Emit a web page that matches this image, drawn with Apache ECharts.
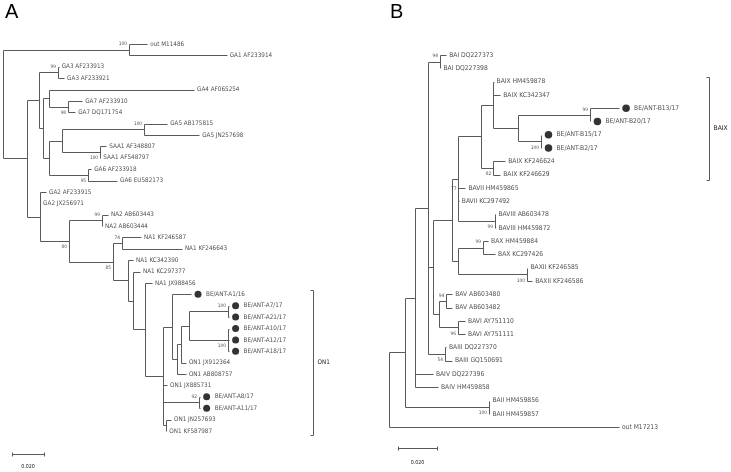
<!DOCTYPE html>
<html><head><meta charset="utf-8">
<script src="https://cdn.jsdelivr.net/npm/echarts@6/dist/echarts.min.js"></script>
<style>html,body{margin:0;padding:0;background:#fff}#c{width:731px;height:472px}</style>
</head><body><div id="c"></div>
<script>
// ---------------- Tree A (nodes in depth-first order; '' = internal node) ----------------
const nameA = ['', '', 'out M11486', 'GA1 AF233914', '', '', '', 'GA3 AF233913', 'GA3 AF233921', '',
  '', 'GA4 AF065254', '', 'GA7 AF233910', 'GA7 DQ171754', '', '', '', 'GA5 AB175815', 'GA5 JN257698',
  '', 'SAA1 AF348807', 'SAA1 AF548797', '', 'GA6 AF233918', 'GA6 EU582173', '', 'GA2 AF233915', 'GA2 JX256971', '',
  '', 'NA2 AB603443', 'NA2 AB603444', '', '', 'NA1 KF246587', 'NA1 KF246643', '', 'NA1 KC342390', '',
  'NA1 KC297377', '', 'NA1 JX988456', '', '', 'BE/ANT-A1/16', '', '', '', '',
  'BE/ANT-A7/17', 'BE/ANT-A21/17', '', 'BE/ANT-A10/17', 'BE/ANT-A12/17', 'BE/ANT-A18/17', 'ON1 JX912364', 'ON1 AB808757', 'ON1 JX885731', '',
  'BE/ANT-A8/17', 'BE/ANT-A11/17', '', 'ON1 JN257693', 'ON1 KF587987'];
const parentA = [-1,0,1,1,0,4,5,6,6,5, 9,10,10,12,12,9,15,16,17,17, 16,20,20,15,23,23,4,26,26,26,
  29,30,30,29,33,34,34,33,37,37, 39,39,41,41,43,44,44,46,47,48, 49,49,48,52,52,52,47,46,43,43, 59,59,43,62,62];
const branchA = [0,0.0788,0.0113,0.0610,0.0150,0.0075,0.0119,0.0004,0.0038,0.0025,
  0.0038,0.0906,0.0119,0.0088,0.0044,0.0038,0.0081,0.0513,0.0144,0.0344,
  0.0238,0.0038,0.0001,0.0244,0.0019,0.0181,0.0081,0.0038,0.0001,0.0181,
  0.0206,0.0038,0.0001,0.0275,0.0056,0.0119,0.0375,0.0094,0.0031,0.0031,
  0.0044,0.0075,0.0044,0.0113,0.0056,0.0119,0.0031,0.0025,0.0050,0.0244,
  0.0004,0.0004,0.0244,0.0004,0.0004,0.0004,0.0031,0.0056,0.0025,0.0225,
  0.0004,0.0004,0.0019,0.0031,0.0002];
const bootNodeA = [1,6,12,17,20,23,29,30,33,34,49,52,59];
const bootValueA = [100,99,98,100,100,95,80,99,85,74,100,100,92];
const bootSideA = ['up','up','down','up','down','down','down','up','down','up','up','down','up'];
const markedA = ['BE/ANT-A1/16','BE/ANT-A7/17','BE/ANT-A21/17','BE/ANT-A10/17','BE/ANT-A12/17','BE/ANT-A18/17','BE/ANT-A8/17','BE/ANT-A11/17'];
const cladeA = ['ON1', 'BE/ANT-A1/16', 'ON1 KF587987'];

// ---------------- Tree B ----------------
const nameB = ['', '', '', '', '', 'BAI DQ227373', 'BAI DQ227398', '', '', '',
  '', '', 'BAIX HM459878', 'BAIX KC342347', '', '', 'BE/ANT-B13/17', 'BE/ANT-B20/17', '', 'BE/ANT-B15/17',
  'BE/ANT-B2/17', '', 'BAIX KF246624', 'BAIX KF246629', '', 'BAVII HM459865', 'BAVII KC297492', '', 'BAVIII AB603478', 'BAVIII HM459872',
  '', '', 'BAX HM459884', 'BAX KC297426', '', 'BAXII KF246585', 'BAXII KF246586', '', '', 'BAV AB603480',
  'BAV AB603482', '', 'BAVI AY751110', 'BAVI AY751111', '', 'BAIII DQ227370', 'BAIII GQ150691', 'BAIV DQ227396', 'BAIV HM459858', '',
  'BAII HM459856', 'BAII HM459857', 'out M17213'];
const parentB = [-1,0,1,2,3,4,4,3,7,8, 9,10,11,11,11,14,15,15,14,18, 18,10,21,21,9,24,24,9,27,27,
  8,30,31,31,30,34,34,7,37,38, 38,37,41,41,3,44,44,2,2,1, 49,49,0];
const branchB = [0,0.0082,0.0051,0.0067,0.0062,0.0031,0.0002,0.0026,0.0097,0.0031,
  0.0118,0.0062,0.0002,0.0036,0.0128,0.0369,0.0149,0.0002,0.0118,0.0002,
  0.0002,0.0062,0.0062,0.0036,0.0002,0.0036,0.0002,0.0190,0.0002,0.0002,
  0.0031,0.0128,0.0026,0.0062,0.0354,0.0002,0.0026,0.0031,0.0036,0.0031,
  0.0031,0.0097,0.0036,0.0036,0.0087,0.0005,0.0036,0.0092,0.0118,0.0431,
  0.0002,0.0002,0.1179];
const bootNodeB = [4,15,18,21,24,27,31,34,38,41,44,49];
const bootValueB = [94,99,100,82,77,99,99,100,94,96,54,100];
const bootSideB = ['up','up','down','down','up','down','up','down','up','down','down','down'];
const markedB = ['BE/ANT-B13/17','BE/ANT-B20/17','BE/ANT-B15/17','BE/ANT-B2/17'];
const cladeB = ['BAIX', 'BAIX HM459878', 'BAIX KF246629'];

const scaleBarLength = 0.02;
const scaleBarLabel = '0.020';
const panelLabels = ['A', 'B'];

// ---------------- layout / styling ----------------
const LINE = '#5a5a5a', TEXT = '#202020';
const FONT = "'Liberation Sans Narrow','Arial Narrow','DejaVu Sans Condensed',sans-serif";
const panels = [
  {left: 3, top: 44, rowH: 11.38, pxPerUnit: 1600, width: 320, font: 6.3, dot: 7, dotGap: 7, labelGap: 3, markGap: 15,
   scaleX: 0.0056, scaleRow: 36.03, scaleTextRow: 37.1, cladeX: 0.194, letterX: 5},
  {left: 389, top: 55, rowH: 13.29, pxPerUnit: 1950, width: 331.5, font: 6.7, dot: 7.5, dotGap: 7, labelGap: 3, markGap: 15,
   scaleX: 0.0046, scaleRow: 29.57, scaleTextRow: 30.7, cladeX: 0.164, letterX: 390}
];

function layoutTree(names, parent, len) {
  const n = names.length, children = names.map(() => []);
  for (let i = 1; i < n; i++) children[parent[i]].push(i);
  const x = new Array(n).fill(0), y = new Array(n).fill(0);
  for (let i = 1; i < n; i++) x[i] = x[parent[i]] + len[i];
  let row = 0;
  (function setY(i) {
    const c = children[i];
    if (!c.length) { y[i] = row++; return; }
    c.forEach(setY);
    y[i] = (y[c[0]] + y[c[c.length - 1]]) / 2;
  })(0);
  return {children, x, y, rows: row};
}

const crisp = v => Math.round(v) + 0.5;
const trees = [
  {names: nameA, parent: parentA, len: branchA, bn: bootNodeA, bv: bootValueA, bs: bootSideA, marked: markedA, clade: cladeA},
  {names: nameB, parent: parentB, len: branchB, bn: bootNodeB, bv: bootValueB, bs: bootSideB, marked: markedB, clade: cladeB}
];

const grids = [], xAxes = [], yAxes = [], series = [];
trees.forEach((t, gi) => {
  const P = panels[gi];
  const L = layoutTree(t.names, t.parent, t.len);
  grids.push({left: P.left, top: P.top, width: P.width, height: P.rowH * (L.rows - 1), outerBoundsMode: 'none', containLabel: false});
  xAxes.push({type: 'value', gridIndex: gi, min: 0, max: P.width / P.pxPerUnit, show: false});
  yAxes.push({type: 'value', gridIndex: gi, min: 0, max: L.rows - 1, inverse: true, show: false});

  const segs = [];
  for (let i = 1; i < t.names.length; i++) segs.push([L.x[t.parent[i]], L.y[i], L.x[i], L.y[i]]);
  for (let i = 0; i < t.names.length; i++) {
    const c = L.children[i];
    if (c.length) segs.push([L.x[i], L.y[c[0]], L.x[i], L.y[c[c.length - 1]]]);
  }
  series.push({
    type: 'custom', xAxisIndex: gi, yAxisIndex: gi, data: segs, clip: false, silent: true,
    encode: {x: [0, 2], y: [1, 3]},
    renderItem: (params, api) => {
      const a = api.coord([api.value(0), api.value(1)]);
      const b = api.coord([api.value(2), api.value(3)]);
      return {type: 'line', shape: {x1: crisp(a[0]), y1: crisp(a[1]), x2: crisp(b[0]), y2: crisp(b[1])},
        style: {stroke: LINE, lineWidth: 1}};
    }
  });

  // leaf labels
  const leafData = [], dotData = [];
  t.names.forEach((nm, i) => {
    if (L.children[i].length) return;
    const m = t.marked.includes(nm);
    leafData.push({value: [L.x[i], L.y[i]], name: nm, label: {distance: m ? P.markGap : P.labelGap}});
    if (m) dotData.push([L.x[i], L.y[i]]);
  });
  series.push({
    type: 'scatter', xAxisIndex: gi, yAxisIndex: gi, data: leafData, symbolSize: 0, silent: true,
    label: {show: true, position: 'right', formatter: '{b}', fontSize: P.font, fontFamily: FONT, color: TEXT}
  });
  series.push({
    type: 'scatter', xAxisIndex: gi, yAxisIndex: gi, data: dotData, symbol: 'circle', symbolSize: P.dot,
    symbolOffset: [P.dotGap, 0], itemStyle: {color: '#000'}, silent: true
  });
  // bootstrap values
  series.push({
    type: 'scatter', xAxisIndex: gi, yAxisIndex: gi, symbolSize: 0, silent: true,
    data: t.bn.map((n, k) => ({value: [L.x[n], L.y[n]], name: String(t.bv[k]),
      label: {offset: [0, t.bs[k] === 'up' ? -5.5 : 6]}})),
    label: {show: true, position: 'left', distance: 2, formatter: '{b}', fontSize: 4.8, fontFamily: FONT, color: TEXT}
  });
  // scale bar
  series.push({
    type: 'custom', xAxisIndex: gi, yAxisIndex: gi, clip: false, silent: true,
    data: [[P.scaleX, P.scaleRow, P.scaleX + scaleBarLength, P.scaleTextRow]],
    encode: {x: [0, 2], y: [1]},
    renderItem: (params, api) => {
      const a = api.coord([api.value(0), api.value(1)]);
      const b = api.coord([api.value(2), api.value(1)]);
      const tt = api.coord([(api.value(0) + api.value(2)) / 2, api.value(3)]);
      const y = crisp(a[1]);
      return {type: 'group', children: [
        {type: 'line', shape: {x1: crisp(a[0]), y1: y, x2: crisp(b[0]), y2: y}, style: {stroke: LINE, lineWidth: 1}},
        {type: 'line', shape: {x1: crisp(a[0]), y1: y - 2, x2: crisp(a[0]), y2: y + 2}, style: {stroke: LINE, lineWidth: 1}},
        {type: 'line', shape: {x1: crisp(b[0]), y1: y - 2, x2: crisp(b[0]), y2: y + 2}, style: {stroke: LINE, lineWidth: 1}},
        {type: 'text', x: tt[0], y: tt[1], style: {text: scaleBarLabel, fontSize: 5.3, fontFamily: FONT, fill: TEXT, align: 'center', verticalAlign: 'middle'}}
      ]};
    }
  });
  // clade bracket
  const lf = t.names.indexOf(t.clade[1]), ll = t.names.indexOf(t.clade[2]);
  series.push({
    type: 'custom', xAxisIndex: gi, yAxisIndex: gi, clip: false, silent: true,
    data: [[P.cladeX, L.y[lf] - 0.38, L.y[ll] + 0.38]],
    encode: {x: [0], y: [1, 2]},
    renderItem: (params, api) => {
      const a = api.coord([api.value(0), api.value(1)]);
      const b = api.coord([api.value(0), api.value(2)]);
      const x = crisp(a[0]);
      return {type: 'group', children: [
        {type: 'line', shape: {x1: x, y1: crisp(a[1]), x2: x, y2: crisp(b[1])}, style: {stroke: LINE, lineWidth: 1}},
        {type: 'line', shape: {x1: x - 3, y1: crisp(a[1]), x2: x, y2: crisp(a[1])}, style: {stroke: LINE, lineWidth: 1}},
        {type: 'line', shape: {x1: x - 3, y1: crisp(b[1]), x2: x, y2: crisp(b[1])}, style: {stroke: LINE, lineWidth: 1}},
        {type: 'text', x: x + 4, y: (a[1] + b[1]) / 2, style: {text: t.clade[0], fontSize: P.font, fontFamily: FONT, fill: TEXT, verticalAlign: 'middle'}}
      ]};
    }
  });
});

const chart = echarts.init(document.getElementById('c'));
chart.setOption({
  animation: false,
  backgroundColor: '#fff',
  grid: grids, xAxis: xAxes, yAxis: yAxes, series: series,
  graphic: panelLabels.map((s, k) => ({type: 'text', left: panels[k].letterX, top: 2,
    style: {text: s, fontSize: 20, fontFamily: 'Liberation Sans, Arial, sans-serif', fill: '#000'}}))
});
</script></body></html>
